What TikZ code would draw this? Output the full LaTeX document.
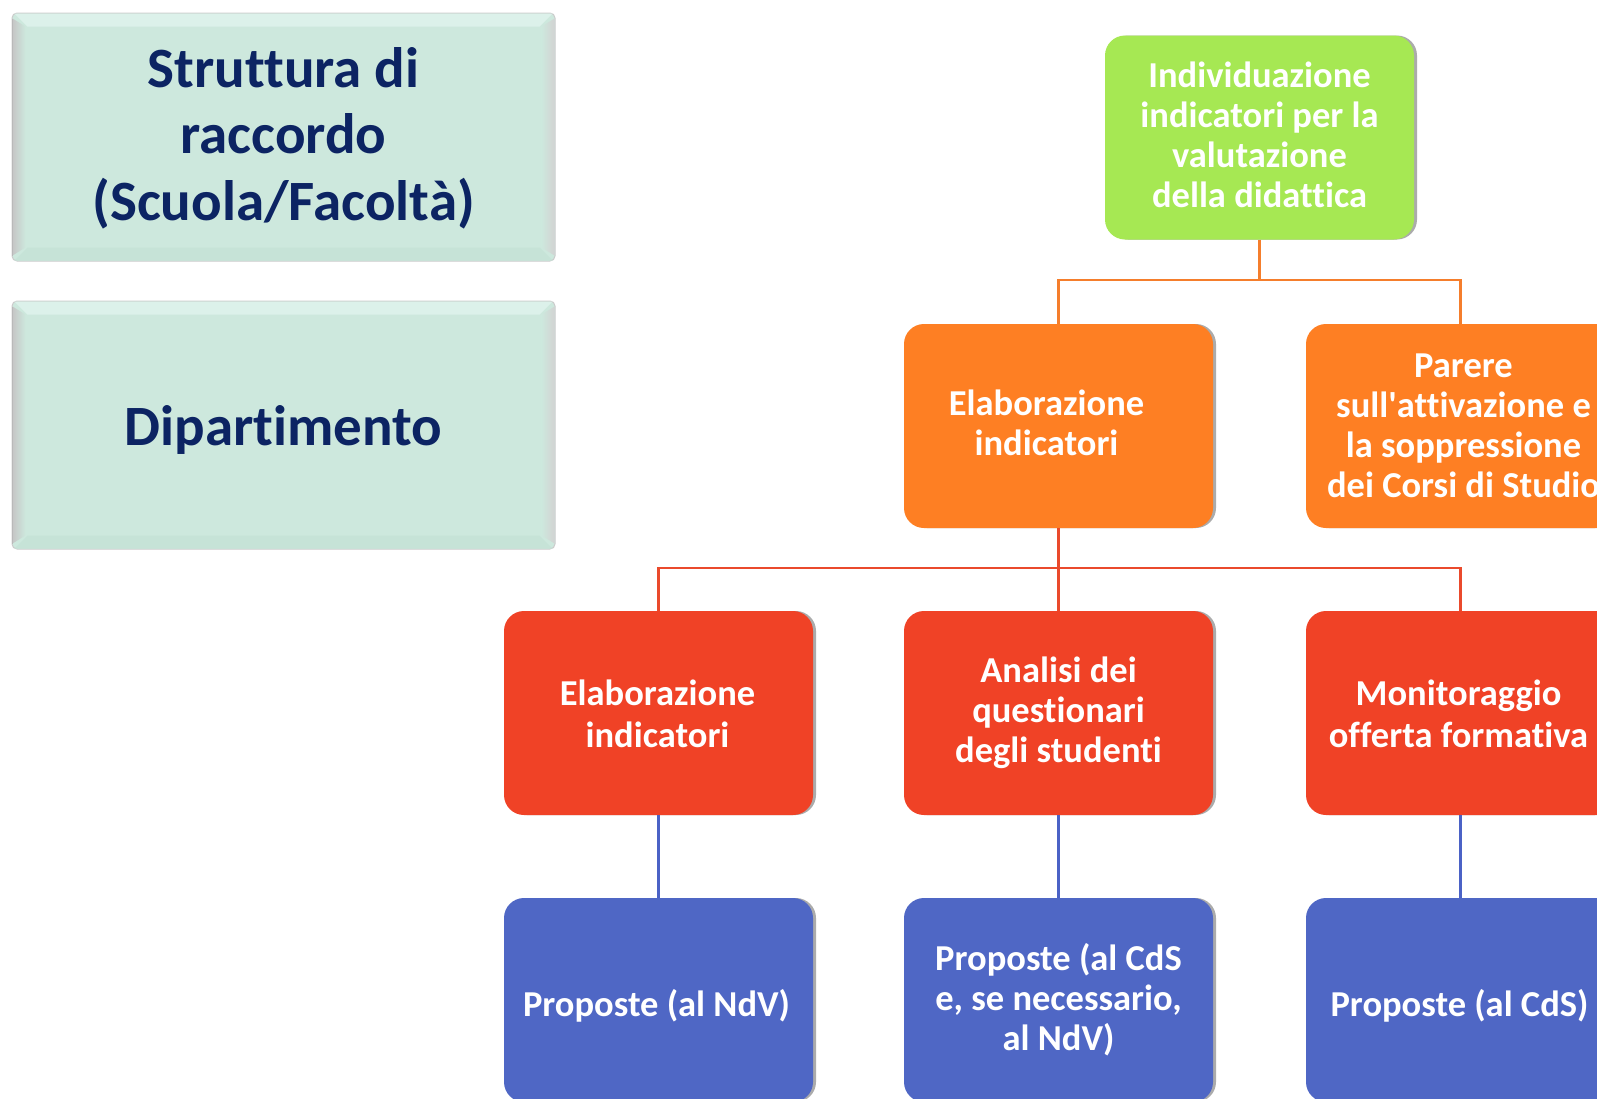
\documentclass[tikz,border=0pt]{standalone}
\usepackage{fontspec}
\setmainfont{Carlito}[Ligatures={NoCommon}]
\usetikzlibrary{calc,shadows}
\definecolor{mint}{HTML}{CDE8DD}
\definecolor{mintlight}{HTML}{DCF1EA}
\definecolor{mintdark}{HTML}{C6E3D7}
\definecolor{navy}{HTML}{0C2463}
\definecolor{cgreen}{HTML}{A6E853}
\definecolor{corange}{HTML}{FE7F23}
\definecolor{cred}{HTML}{F04226}
\definecolor{cblue}{HTML}{4F67C5}
\definecolor{lorange}{HTML}{F57E2C}
\definecolor{lred}{HTML}{EA4A2C}
\definecolor{lblue}{HTML}{4B62C6}
\tikzset{
  lbox/.style={rectangle, fill=mint, draw=gray!40, line width=1pt, rounded corners=5pt,
    minimum width=543pt, minimum height=248pt, inner sep=0pt},
  ltext/.style={align=center, inner sep=0pt, text=navy, font=\fontsize{57}{66.5}\selectfont\bfseries},
  cbox/.style={rectangle, rounded corners=20pt, minimum width=309pt, minimum height=204pt,
    inner sep=0pt,
    drop shadow={shadow xshift=3pt, shadow yshift=0pt, opacity=0.55, fill=black!60}},
  ctext/.style={align=center, inner sep=0pt, text=white, font=\fontsize{36.5}{40}\selectfont\bfseries},
  ctextw/.style={ctext, font=\fontsize{36.5}{42.5}\selectfont\bfseries},
  gbox/.style={cbox, fill=cgreen},
  obox/.style={cbox, fill=corange},
  rbox/.style={cbox, fill=cred},
  bbox/.style={cbox, fill=cblue},
  oline/.style={draw=lorange, line width=2.5pt},
  rline/.style={draw=lred, line width=2.5pt},
  bline/.style={draw=lblue, line width=2.5pt},
}
\begin{document}
\begin{tikzpicture}[x=1pt,y=-1pt]
\useasboundingbox (0,0) rectangle (1597,1098);
\clip (0,0) rectangle (1597,1098);
\fill[white] (0,0) rectangle (1597,1098);

% left boxes
\foreach \nm/\cy in {b1/137, b2/425}{
  \node[lbox] (\nm) at (283.5,\cy) {};
  \fill[mintlight] ($(\nm.north west)+(3,1)$) -- ($(\nm.north east)+(-3,1)$) -- ($(\nm.north east)+(-16,14)$) -- ($(\nm.north west)+(16,14)$) -- cycle;
  \fill[mintdark] ($(\nm.south west)+(3,-1)$) -- ($(\nm.south east)+(-3,-1)$) -- ($(\nm.south east)+(-16,-14)$) -- ($(\nm.south west)+(16,-14)$) -- cycle;
  \shade[left color=gray!45, right color=mint] ($(\nm.north west)+(1,6)$) -- ($(\nm.north west)+(14,14)$) -- ($(\nm.south west)+(14,-14)$) -- ($(\nm.south west)+(1,-6)$) -- cycle;
  \shade[right color=gray!35, left color=mint] ($(\nm.north east)+(-1,6)$) -- ($(\nm.north east)+(-14,14)$) -- ($(\nm.south east)+(-14,-14)$) -- ($(\nm.south east)+(-1,-6)$) -- cycle;
  \draw[gray!55, line width=1.5pt] ($(\nm.north west)+(1,6)$) -- ($(\nm.south west)+(1,-6)$);
}
\node[ltext] (t1) at (283.5,138) {Struttura di\\raccordo\\(Scuola/Facoltà)};
\node[ltext] (t2) at (283.5,430) {Dipartimento};

% coloured boxes
\node[gbox] (g) at (1259.5,137.5) {};
\node[obox] (o1) at (1058.5,426) {};
\node[obox] (o2) at (1460.5,426) {};
\node[rbox] (r1) at (658.5,713) {};
\node[rbox] (r2) at (1058.5,713) {};
\node[rbox] (r3) at (1460.5,713) {};
\node[bbox] (u1) at (658.5,1000) {};
\node[bbox] (u2) at (1058.5,1000) {};
\node[bbox] (u3) at (1460.5,1000) {};

\node[ctext] (gt) at ($(g)+(0,-3)$) {Individuazione\\indicatori per la\\valutazione\\della didattica};
\node[ctext] (o1t) at ($(o1)+(-12,-3)$) {Elaborazione\\indicatori};
\node[ctext] (o2t) at ($(o2)+(3,0)$) {Parere\\sull\textquotesingle attivazione e\\la soppressione\\dei Corsi di Studio};
\node[ctextw] (r1t) at ($(r1)+(-1,1)$) {Elaborazione\\indicatori};
\node[ctext] (r2t) at (r2) {Analisi dei\\questionari\\degli studenti};
\node[ctextw] (r3t) at ($(r3)+(-2,1)$) {Monitoraggio\\offerta formativa};
\node[ctext] (u1t) at ($(u1)+(-2,6)$) {Proposte (al NdV)};
\node[ctext] (u2t) at (u2) {Proposte (al CdS\\e, se necessario,\\al NdV)};
\node[ctext] (u3t) at ($(u3)+(-1,6)$) {Proposte (al CdS)};

% connectors
\coordinate (j1) at (1259.5,280);
\coordinate (j2) at (1058.5,568);
\draw[oline] (g.south) -- (j1);
\draw[oline] (j1) -| (o1.north);
\draw[oline] (j1) -| (o2.north);
\draw[rline] (o1.south) -- (r2.north);
\draw[rline] (j2) -| (r1.north);
\draw[rline] (j2) -| (r3.north);
\draw[bline] (r1.south) -- (u1.north);
\draw[bline] (r2.south) -- (u2.north);
\draw[bline] (r3.south) -- (u3.north);
\end{tikzpicture}
\end{document}
